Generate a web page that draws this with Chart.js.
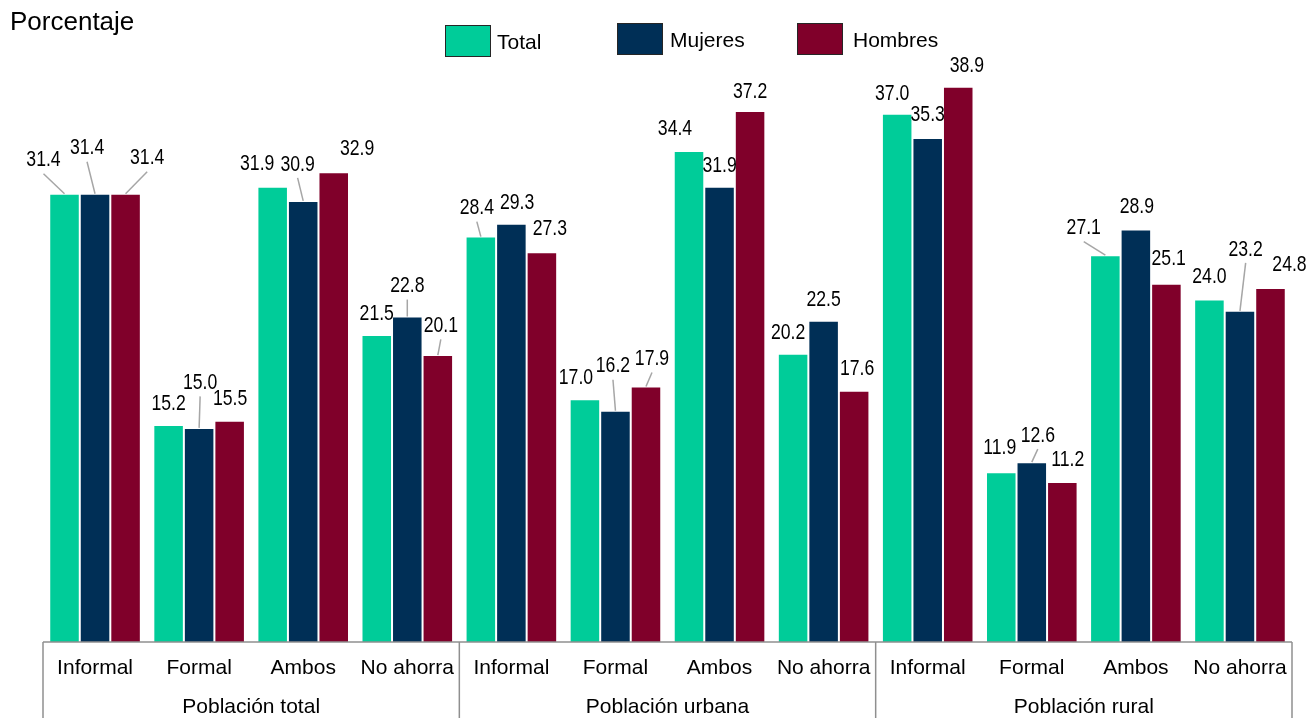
<!DOCTYPE html>
<html>
<head>
<meta charset="utf-8">
<script src="https://cdn.jsdelivr.net/npm/chart.js@4"></script>
<style>
  html, body { margin: 0; padding: 0; background: #ffffff; }
  #wrap { width: 1314px; height: 718px; position: relative; }
</style>
</head>
<body>
<div id="wrap"><canvas id="c" width="1314" height="718"></canvas></div>
<script>
// ---- Data ----
const categories = ["Informal", "Formal", "Ambos", "No ahorra",
                    "Informal", "Formal", "Ambos", "No ahorra",
                    "Informal", "Formal", "Ambos", "No ahorra"];
const groups = ["Población total", "Población urbana", "Población rural"];
const seriesNames = ["Total", "Mujeres", "Hombres"];
const total   = [31.4, 15.2, 31.9, 21.5, 28.4, 17.0, 34.4, 20.2, 37.0, 11.9, 27.1, 24.0];
const mujeres = [31.4, 15.0, 30.9, 22.8, 29.3, 16.2, 31.9, 22.5, 35.3, 12.6, 28.9, 23.2];
const hombres = [31.4, 15.5, 32.9, 20.1, 27.3, 17.9, 37.2, 17.6, 38.9, 11.2, 25.1, 24.8];
const yTitle = "Porcentaje";

// ---- Style (label placement, as in the reference) ----
const colors = ["#00CC99", "#002F56", "#80002A"];
const labelDx = [
  [-21, 0, -15.5, 0, -4, -9, -14, -5, -5, -1.5, -21.6, 0],
  [-8, 1, -5.6, 0, 5.7, -2.5, 0, 0, 0, 6, 1, 5.7],
  [21.6, 0.5, 23.4, 3, 8, 6, 0, 3, 8.6, 5.4, 2.3, 19]
];
const labelDy = [
  [-35, -23, -24, -22.5, -30, -23, -24, -22, -22, -26, -28.5, -24],
  [-47, -46.5, -38, -32, -22, -46, -22, -23, -25, -28, -24, -63],
  [-37, -23.5, -25.5, -30.6, -24.6, -29, -21, -23, -22.7, -24, -26, -24.4]
];
const leader = [
  [1,0,0,0,1,0,0,0,0,0,1,0],
  [1,1,1,1,0,1,0,0,0,1,0,1],
  [1,0,0,1,0,1,0,0,0,0,0,0]
];
const FONT = "'Liberation Sans', Arial, sans-serif";

const overlay = {
  id: 'overlay',
  afterDatasetsDraw(chart) {
    const ctx = chart.ctx;
    const area = chart.chartArea;
    const xs = chart.scales.x;
    ctx.save();

    // leader lines
    ctx.strokeStyle = "#A6A6A6";
    ctx.lineWidth = 1.5;
    chart.data.datasets.forEach((ds, d) => {
      const meta = chart.getDatasetMeta(d);
      meta.data.forEach((bar, i) => {
        if (!leader[d][i]) return;
        const lx = bar.x + labelDx[d][i];
        const ly = bar.y + labelDy[d][i];
        ctx.beginPath();
        ctx.moveTo(lx, ly + 15);
        ctx.lineTo(bar.x, bar.y);
        ctx.stroke();
      });
    });

    // data labels
    ctx.fillStyle = "#000000";
    ctx.font = "21.5px " + FONT;
    ctx.textAlign = "center";
    ctx.textBaseline = "alphabetic";
    chart.data.datasets.forEach((ds, d) => {
      const meta = chart.getDatasetMeta(d);
      meta.data.forEach((bar, i) => {
        const lx = bar.x + labelDx[d][i];
        const ly = bar.y + labelDy[d][i];
        ctx.save();
        ctx.translate(lx, ly + 7.7);
        ctx.scale(0.82, 1);
        ctx.fillText(ds.data[i].toFixed(1), 0, 0);
        ctx.restore();
      });
    });

    // axis line and group separators
    const n = categories.length;
    const catW = (area.right - area.left) / n;
    ctx.strokeStyle = "#8F8F8F";
    ctx.lineWidth = 1.5;
    ctx.beginPath();
    ctx.moveTo(area.left, area.bottom);
    ctx.lineTo(area.right, area.bottom);
    ctx.stroke();
    const per = n / groups.length;
    for (let g = 0; g <= groups.length; g++) {
      const x = area.left + g * per * catW;
      ctx.beginPath();
      ctx.moveTo(x, area.bottom);
      ctx.lineTo(x, chart.height);
      ctx.stroke();
    }

    // category labels
    ctx.fillStyle = "#000000";
    ctx.font = "21px " + FONT;
    ctx.textAlign = "center";
    categories.forEach((c, i) => {
      ctx.fillText(c, xs.getPixelForValue(i), area.bottom + 32);
    });
    // group labels
    groups.forEach((g, k) => {
      const x = area.left + (k + 0.5) * per * catW;
      ctx.fillText(g, x, area.bottom + 71);
    });

    // y title
    ctx.textAlign = "left";
    ctx.font = "26px " + FONT;
    ctx.fillText(yTitle, 10, 30);

    // legend
    const boxes = [[445, 25], [617, 23], [797, 23]];
    const textX = [497, 670, 853];
    ctx.font = "21px " + FONT;
    chart.data.datasets.forEach((ds, d) => {
      const [bx, by] = boxes[d];
      ctx.fillStyle = ds.backgroundColor;
      ctx.fillRect(bx, by, 46, 32);
      ctx.strokeStyle = "#262626";
      ctx.lineWidth = 1;
      ctx.strokeRect(bx + 0.5, by + 0.5, 45, 31);
      ctx.fillStyle = "#000000";
      ctx.fillText(ds.label, textX[d], by + 16 + 7.5);
    });

    ctx.restore();
  }
};

const seriesData = [total, mujeres, hombres];
new Chart(document.getElementById('c'), {
  type: 'bar',
  data: {
    labels: categories,
    datasets: seriesData.map((arr, d) => ({
      label: seriesNames[d],
      data: arr,
      backgroundColor: colors[d],
      borderColor: 'rgba(255,255,255,0.14)',
      borderWidth: 1,
      categoryPercentage: 0.88,
      barPercentage: 1.0
    }))
  },
  options: {
    responsive: false,
    animation: false,
    devicePixelRatio: 1,
    layout: { padding: { left: 43, right: 22, top: 71, bottom: 76 } },
    scales: {
      x: { display: false, grid: { display: false } },
      y: { display: false, min: 0, max: 40, grid: { display: false } }
    },
    plugins: {
      legend: { display: false },
      tooltip: { enabled: false },
      title: { display: false }
    }
  },
  plugins: [overlay]
});
</script>
</body>
</html>
